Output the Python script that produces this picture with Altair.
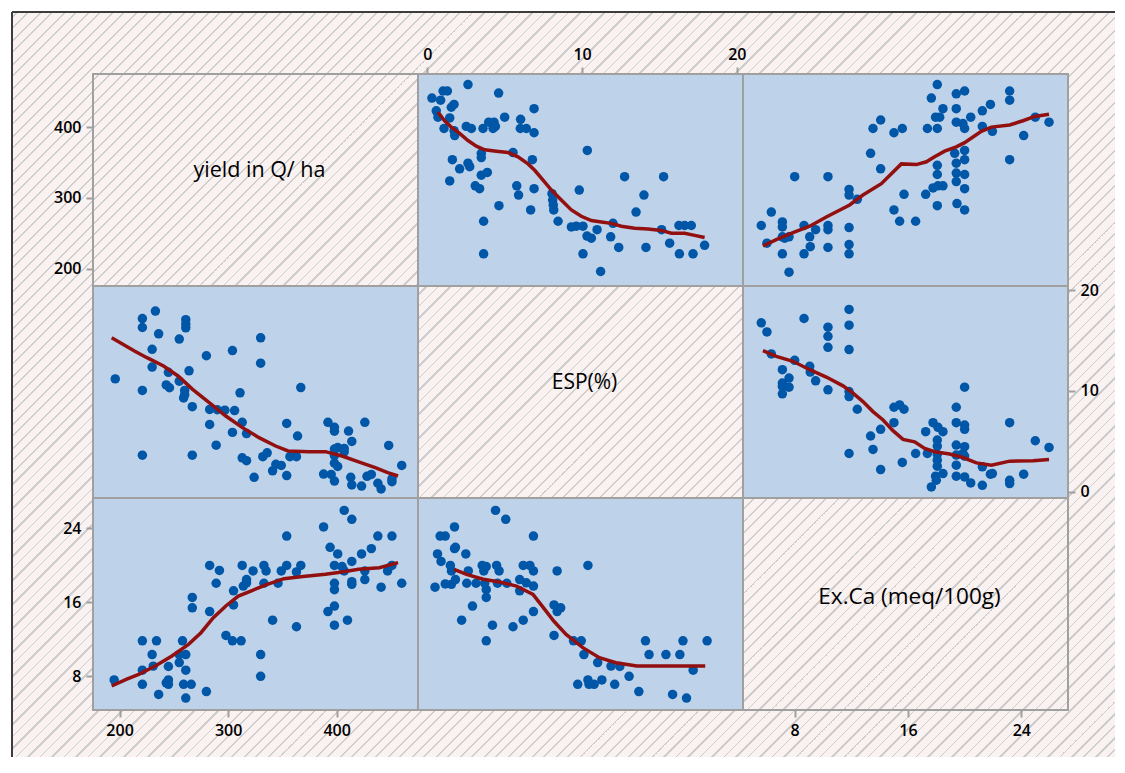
import altair as alt
import pandas as pd

# ---------------- data ----------------
# (ESP %, yield Q/ha)
yield_esp = [
    (0.30, 441), (0.86, 438), (1.02, 451), (1.30, 451), (2.63, 460), (4.61, 448),
    (1.55, 428), (1.73, 432), (0.58, 423), (0.69, 414), (1.45, 413), (1.08, 398),
    (1.73, 395), (1.77, 388), (2.52, 401), (2.85, 398), (3.60, 398), (3.97, 407),
    (4.31, 407), (4.40, 401), (4.25, 398), (5.00, 414), (6.03, 411), (6.01, 398),
    (6.40, 398), (6.90, 392), (6.90, 426), (3.49, 363), (3.49, 357), (1.62, 354),
    (2.63, 349), (2.74, 344), (2.09, 341), (1.45, 324), (3.49, 332), (3.88, 336),
    (3.10, 317), (3.38, 313), (5.54, 364), (6.79, 354), (5.78, 317), (5.90, 304),
    (6.90, 313), (4.63, 289), (3.64, 267), (3.64, 221), (6.68, 283), (8.06, 306),
    (8.10, 297), (8.14, 290), (8.17, 283), (8.45, 267), (10.34, 367), (9.82, 311),
    (9.31, 259), (9.63, 260), (10.06, 260), (10.32, 246), (10.60, 243), (10.97, 255),
    (10.06, 221), (11.20, 196), (11.85, 245), (12.00, 264), (12.37, 230), (12.75, 330),
    (13.49, 280), (14.00, 304), (14.13, 230), (15.27, 330), (15.14, 255), (15.66, 236),
    (16.26, 261), (16.63, 261), (17.06, 261), (16.29, 221), (17.17, 221), (17.92, 233),
]
# (Ex.Ca meq/100g, yield Q/ha)
yield_exca = [
    (5.64, 261), (6.04, 236), (6.35, 280), (7.13, 266), (7.13, 259), (7.13, 245),
    (7.29, 243), (7.60, 245), (7.13, 221), (7.60, 195), (8.00, 330), (8.66, 261),
    (8.66, 221), (9.06, 245), (9.10, 231), (9.48, 255), (10.35, 330), (10.35, 261),
    (10.35, 255), (10.35, 230), (11.84, 312), (11.84, 304), (11.84, 258), (11.84, 234),
    (11.84, 221), (12.42, 298), (13.36, 363), (13.53, 398), (14.07, 410), (14.07, 341),
    (15.01, 392), (15.60, 398), (15.01, 283), (15.41, 267), (15.72, 305), (16.54, 267),
    (17.25, 305), (17.37, 398), (17.65, 441), (18.07, 460), (18.47, 426), (17.95, 414),
    (18.24, 414), (18.07, 398), (18.07, 346), (18.07, 333), (17.77, 314), (18.12, 317),
    (18.47, 317), (18.07, 289), (19.41, 447), (20.00, 451), (19.41, 426), (19.41, 407),
    (19.88, 405), (20.00, 398), (20.43, 414), (19.30, 363), (20.00, 367), (19.41, 349),
    (20.00, 354), (19.41, 335), (20.00, 333), (19.41, 323), (20.00, 313), (19.46, 292),
    (20.00, 283), (21.25, 423), (21.82, 432), (21.25, 401), (21.96, 394), (23.18, 451),
    (23.18, 438), (23.18, 354), (24.17, 388), (24.99, 414), (25.96, 407),
]
# (Ex.Ca meq/100g, ESP %)
esp_exca = [
    (5.64, 16.75), (6.04, 15.85), (6.35, 13.67), (7.13, 12.11), (7.60, 11.28), (7.13, 10.78),
    (7.13, 10.45), (7.60, 10.38), (7.13, 9.72), (8.00, 13.04), (8.66, 17.18), (9.06, 12.44),
    (9.10, 11.87), (9.48, 11.01), (10.35, 16.32), (10.35, 15.42), (10.35, 14.33), (10.35, 10.12),
    (11.84, 18.08), (11.84, 16.52), (11.84, 14.10), (11.84, 9.95), (11.84, 9.45), (11.84, 3.81),
    (12.42, 8.19), (13.36, 5.54), (13.53, 4.21), (14.07, 6.20), (14.07, 2.22), (15.01, 8.39),
    (15.41, 8.62), (15.72, 8.19), (15.01, 6.86), (15.60, 2.92), (16.54, 3.81), (17.25, 5.97),
    (17.37, 3.81), (17.77, 6.86), (18.12, 6.40), (18.47, 5.97), (18.07, 5.14), (18.07, 4.54),
    (18.07, 3.71), (18.07, 3.15), (18.07, 2.55), (17.95, 1.56), (18.47, 1.82), (17.65, 0.50),
    (18.00, 1.16), (19.41, 8.39), (19.41, 6.86), (20.00, 10.38), (20.00, 6.63), (20.00, 6.20),
    (19.41, 4.64), (20.00, 4.48), (19.41, 3.65), (19.88, 3.81), (20.00, 3.55), (19.41, 2.65),
    (19.41, 1.56), (20.00, 1.49), (20.43, 0.89), (21.25, 2.49), (21.82, 1.76), (21.96, 1.82),
    (21.25, 0.66), (23.18, 6.86), (23.18, 1.16), (23.18, 0.83), (24.17, 1.76), (24.99, 5.07),
    (25.96, 4.41),
]

# smoothed (lowess) lines, one per off-diagonal panel: (x, y)
fit_yield_on_esp = [
    (0.69, 421), (1.12, 409), (1.55, 400), (2.09, 391), (2.63, 381), (3.17, 373), (3.71, 368),
    (4.46, 366), (5.22, 364), (5.86, 358), (6.51, 348), (6.94, 339), (7.48, 325), (8.02, 311),
    (8.66, 297), (9.31, 283), (9.95, 274), (10.60, 268), (11.25, 266), (11.89, 264), (12.54, 260),
    (13.40, 257), (14.26, 256), (15.12, 254), (15.77, 250), (16.63, 250), (17.28, 247), (17.92, 244),
]
fit_yield_on_exca = [
    (5.76, 232), (6.70, 241), (7.88, 251), (9.06, 260), (10.23, 273), (11.88, 290), (12.82, 304),
    (14.12, 320), (15.53, 348), (16.59, 347), (17.30, 351), (17.88, 358), (18.59, 366), (19.41, 372),
    (20.00, 378), (20.59, 386), (21.18, 394), (21.89, 400), (23.18, 403), (24.12, 409), (24.95, 415),
    (25.96, 418),
]
fit_esp_on_exca = [
    (5.76, 14.00), (6.70, 13.43), (7.88, 12.94), (9.06, 12.11), (10.23, 11.38), (11.41, 10.51),
    (12.12, 9.78), (12.82, 8.95), (13.53, 7.96), (14.24, 7.13), (14.94, 6.07), (15.65, 5.21),
    (16.47, 4.97), (17.18, 4.31), (17.88, 3.98), (18.94, 3.75), (19.88, 3.41), (20.83, 2.88),
    (21.89, 2.65), (23.18, 3.05), (24.83, 3.08), (25.96, 3.22),
]
fit_esp_on_yield = [
    (192.7, 15.28), (213.7, 13.96), (225.2, 13.30), (240.5, 12.48), (253.9, 11.49), (267.3, 10.16),
    (282.6, 8.84), (297.9, 7.52), (313.2, 6.37), (328.5, 5.38), (343.8, 4.55), (355.3, 4.06),
    (374.4, 3.99), (389.7, 3.99), (405.0, 3.56), (420.3, 2.97), (435.6, 2.40), (447.1, 1.91),
    (456.6, 1.58),
]
fit_exca_on_yield = [
    (192.7, 6.95), (206.1, 7.67), (217.6, 8.21), (232.9, 9.11), (248.2, 10.20), (263.5, 11.46),
    (275.0, 12.72), (286.4, 14.34), (297.9, 15.61), (309.4, 16.69), (320.9, 17.23), (336.2, 17.95),
    (351.5, 18.57), (366.8, 18.78), (389.7, 19.04), (405.0, 19.29), (420.3, 19.58), (439.4, 19.76),
    (456.6, 20.30),
]
fit_exca_on_esp = [
    (1.73, 19.58), (2.54, 19.04), (3.61, 18.50), (4.68, 18.21), (5.76, 17.77), (6.83, 16.87),
    (7.50, 15.43), (8.17, 13.98), (8.97, 12.54), (10.05, 11.10), (11.12, 10.02), (12.19, 9.47),
    (13.54, 9.11), (15.41, 9.11), (17.96, 9.11),
]

labels = ["yield in Q/ ha", "ESP(%)", "Ex.Ca (meq/100g)"]
ticks_yield = [200, 300, 400]
ticks_esp = [0, 10, 20]
ticks_exca = [8, 16, 24]

dom_yield = [175.5, 475]
dom_esp = [-0.6, 20.4]
dom_exca = [4.35, 27.3]

# ---------------- style ----------------
FONT = "Open Sans"
BLUE = "#BED2EA"
BORDER = "#A0A0A0"
PT = "#0056A7"
LN = "#921010"
HATCH_BG = "#FAF1F1"
HATCH_LN = "#CDCDCD"
W = 325
H = 212


def frame(pairs, swap=False):
    if swap:
        return pd.DataFrame({"x": [p[1] for p in pairs], "y": [p[0] for p in pairs]})
    return pd.DataFrame({"x": [p[0] for p in pairs], "y": [p[1] for p in pairs]})


def axis(orient, values):
    return alt.Axis(orient=orient, values=values, title=None, domain=False, grid=False,
                    tickSize=7, tickWidth=2, tickColor=BORDER, labelFont=FONT,
                    labelFontSize=16, labelFontWeight=600, labelColor="#000000",
                    labelPadding=5, labelFlush=False, labelOverlap=False, zindex=1)


def enc_x(dom, ax=None):
    return alt.X("x:Q", scale=alt.Scale(domain=dom, nice=False, zero=False),
                 axis=ax if ax is not None else None)


def enc_y(dom, ax=None):
    return alt.Y("y:Q", scale=alt.Scale(domain=dom, nice=False, zero=False),
                 axis=ax if ax is not None else None)


def scatter(pairs, fit, xdom, ydom, swap=False, xax=None, yax=None):
    X = enc_x(xdom, xax)
    Y = enc_y(ydom, yax)
    pts = alt.Chart(frame(pairs, swap)).mark_circle(size=90, color=PT, opacity=1).encode(x=X, y=Y)
    ln = alt.Chart(frame(fit)).mark_line(color=LN, strokeWidth=3.5).encode(x=X, y=Y)
    return alt.layer(pts, ln).properties(
        width=W, height=H,
        view=alt.ViewBackground(fill=BLUE, stroke=BORDER, strokeWidth=2))


dummy = pd.DataFrame({"k": [0]})


def label(text, size=21, dy=-9):
    return alt.Chart(dummy).mark_text(text=text, font=FONT, fontSize=size, fontWeight=500,
                                      color="#000000", align="center", baseline="middle").encode(
        x=alt.value(W / 2 + 4), y=alt.value(H / 2 + dy))


# hatched page background (drawn from the first panel, behind everything)
BX0, BX1, BY0, BY1 = -81, 1022, -62, 683
bw, bh = BX1 - BX0, BY1 - BY0
r = bh / bw
c = (1 + r) / (1 + r * r)
S = bw + bh
period, thick = 12.0, 2.0
stops = [{"offset": 0, "color": HATCH_BG}]
k = 0
while True:
    o0 = (k * period + 4) / S
    o1 = (k * period + 4 + thick) / S
    if o1 >= 1:
        break
    stops += [{"offset": round(o0, 6), "color": HATCH_BG},
              {"offset": round(o0, 6), "color": HATCH_LN},
              {"offset": round(o1, 6), "color": HATCH_LN},
              {"offset": round(o1, 6), "color": HATCH_BG}]
    k += 1
stops.append({"offset": 1, "color": HATCH_BG})
grad = {"gradient": "linear", "x1": 0, "y1": 0, "x2": c, "y2": c * r, "stops": stops}

hatch = alt.Chart(dummy).mark_rect(fill=grad, strokeWidth=0).encode(
    x=alt.value(BX0), x2=alt.value(BX1), y=alt.value(BY0), y2=alt.value(BY1))
edge_left = alt.Chart(dummy).mark_rule(color="#3C3C3C", strokeWidth=2).encode(
    x=alt.value(BX0), y=alt.value(BY0), y2=alt.value(BY1))
edge_top = alt.Chart(dummy).mark_rule(color="#3C3C3C", strokeWidth=2).encode(
    x=alt.value(BX0), x2=alt.value(BX1), y=alt.value(BY0))
border1 = alt.Chart(dummy).mark_rect(fill="#ffffff", fillOpacity=0, stroke=BORDER, strokeWidth=2).encode(
    x=alt.value(0), x2=alt.value(W), y=alt.value(0), y2=alt.value(H))
yield_axis_pts = alt.Chart(frame(yield_esp)).mark_point(opacity=0).encode(
    y=enc_y(dom_yield, axis("left", ticks_yield)))

p11 = alt.layer(hatch, edge_left, edge_top, border1, label(labels[0], 21.5), yield_axis_pts).properties(
    width=W, height=H, view=alt.ViewBackground(stroke="transparent"))
p12 = scatter(yield_esp, fit_yield_on_esp, dom_esp, dom_yield, xax=axis("top", ticks_esp))
p13 = scatter(yield_exca, fit_yield_on_exca, dom_exca, dom_yield)

p21 = scatter(yield_esp, fit_esp_on_yield, dom_yield, dom_esp, swap=True)
p22 = label(labels[1], 21).properties(
    width=W, height=H, view=alt.ViewBackground(stroke=BORDER, strokeWidth=2))
p23 = scatter(esp_exca, fit_esp_on_exca, dom_exca, dom_esp, yax=axis("right", ticks_esp))

p31 = scatter(yield_exca, fit_exca_on_yield, dom_yield, dom_exca, swap=True,
              xax=axis("bottom", ticks_yield), yax=axis("left", ticks_exca))
p32 = scatter(esp_exca, fit_exca_on_esp, dom_esp, dom_exca, swap=True)
exca_axis_pts = alt.Chart(frame(esp_exca)).mark_point(opacity=0).encode(
    x=enc_x(dom_exca, axis("bottom", ticks_exca)))
p33 = alt.layer(label(labels[2], 22.5, dy=-7), exca_axis_pts).properties(
    width=W, height=H, view=alt.ViewBackground(stroke=BORDER, strokeWidth=2))

chart = alt.concat(p11, p12, p13, p21, p22, p23, p31, p32, p33,
                   columns=3, spacing=0, bounds="flush").properties(
    padding={"left": 2, "top": 2, "right": 0, "bottom": 0},
    background="#ffffff",
).configure_view(stroke=BORDER, strokeWidth=2)

chart.save("out.html", embed_options={"renderer": "svg", "actions": False})
